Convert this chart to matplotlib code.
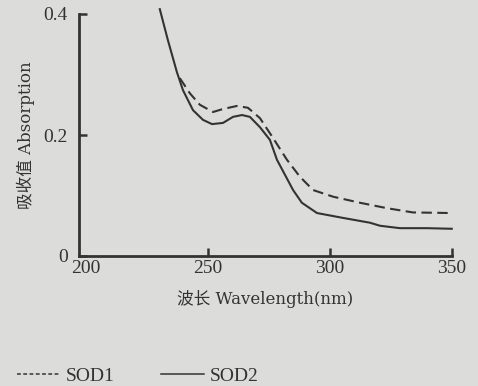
import matplotlib
matplotlib.use('Agg')
import matplotlib.pyplot as plt
from matplotlib.lines import Line2D

# SOD1 (dashed)
wl_sod1 = [238.6, 242.7, 246.8, 252.2, 256.3, 262.0, 266.5, 271.4, 276.8,
           282.5, 287.8, 293.2, 301.4, 312.4, 323.5, 334.1, 350.0]
abs_sod1 = [0.294, 0.269, 0.250, 0.238, 0.243, 0.248, 0.245, 0.228, 0.195,
            0.159, 0.131, 0.109, 0.098, 0.088, 0.079, 0.072, 0.071]

# SOD2 (solid)
wl_sod2 = [230.4, 233.7, 237.4, 239.9, 244.0, 248.1, 251.8, 256.3, 260.4,
           264.1, 267.3, 271.4, 275.5, 278.4, 285.0, 288.6, 294.8, 305.4,
           316.5, 320.6, 328.8, 339.9, 350.0]
abs_sod2 = [0.408, 0.357, 0.304, 0.274, 0.241, 0.225, 0.218, 0.220, 0.230,
            0.233, 0.230, 0.213, 0.192, 0.159, 0.109, 0.088, 0.071, 0.063,
            0.055, 0.050, 0.046, 0.046, 0.045]

x_ticks = [200, 250, 300, 350]
y_ticks = [0, 0.2, 0.4]
y_ticklabels = ['0', '0.2', '0.4']

bg = '#dcdcda'
ink = '#333333'
plt.rcParams['font.family'] = ['Liberation Serif', 'Noto Sans CJK SC', 'DejaVu Sans']
label_fonts = ['DejaVu Serif', 'Noto Sans CJK SC']

fig = plt.figure(figsize=(4.78, 3.86), dpi=100, facecolor=bg)
ax = fig.add_axes([79/478, 1-256/386, (452-79)/478, (256-14)/386])
ax.set_facecolor(bg)

ax.plot(wl_sod1, abs_sod1, color=ink, lw=1.5, dashes=(5, 2.6), clip_on=False)
ax.plot(wl_sod2, abs_sod2, color=ink, lw=1.5, clip_on=False)

ax.set_xlim(197.3, 350.1)
ax.set_ylim(0, 0.4)
ax.set_xticks(x_ticks)
ax.set_yticks(y_ticks)
ax.set_yticklabels(y_ticklabels)
ax.xaxis.get_major_ticks()[0].tick1line.set_visible(False)

for s in ['top', 'right']:
    ax.spines[s].set_visible(False)
for s in ['left', 'bottom']:
    ax.spines[s].set_linewidth(2.0)
    ax.spines[s].set_color(ink)

ax.tick_params(axis='both', direction='in', length=6, width=1.8, color=ink,
               labelcolor=ink, labelsize=14)
ax.tick_params(axis='x', pad=3)
ax.tick_params(axis='y', pad=8)

ax.set_xlabel('波长 Wavelength(nm)', fontsize=12, color=ink, labelpad=9,
              family=label_fonts)
ax.set_ylabel('吸收值 Absorption', fontsize=12, color=ink, labelpad=6,
              family=label_fonts)

h1 = Line2D([], [], color=ink, lw=1.1, dashes=(2.5, 1.6))
h2 = Line2D([], [], color=ink, lw=1.1)
fig.legend([h1, h2], ['SOD1', 'SOD2'], ncol=2, frameon=False,
           loc='center left', bbox_to_anchor=(17/478, 10/386),
           borderpad=0, borderaxespad=0, handlelength=2.2,
           handletextpad=0.3, columnspacing=2.4,
           prop={'size': 14}, labelcolor=ink)

fig.savefig('out.png', dpi=100, facecolor=bg)
